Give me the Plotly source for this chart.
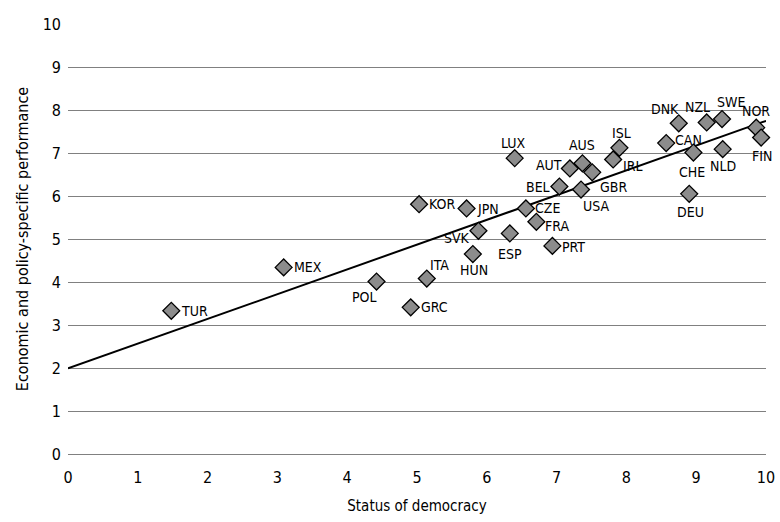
import numpy as np
import plotly.graph_objects as go

# OECD countries: status of democracy vs economic and policy-specific performance
countries = ["TUR", "MEX", "POL", "GRC", "ITA", "KOR", "JPN", "SVK", "HUN", "ESP",
             "CZE", "FRA", "PRT", "LUX", "BEL", "AUT", "AUS", "USA", "GBR", "IRL",
             "ISL", "CAN", "DNK", "DEU", "CHE", "NZL", "SWE", "NLD", "NOR", "FIN"]
democracy = [1.48, 3.09, 4.42, 4.91, 5.14, 5.03, 5.71, 5.88, 5.80, 6.33,
             6.56, 6.71, 6.94, 6.40, 7.04, 7.19, 7.37, 7.35, 7.51, 7.81,
             7.90, 8.57, 8.75, 8.90, 8.96, 9.15, 9.37, 9.38, 9.86, 9.93]
performance = [3.33, 4.34, 4.01, 3.41, 4.08, 5.81, 5.71, 5.19, 4.65, 5.13,
               5.71, 5.40, 4.84, 6.88, 6.22, 6.64, 6.76, 6.15, 6.55, 6.85,
               7.12, 7.23, 7.69, 6.05, 7.01, 7.71, 7.79, 7.09, 7.59, 7.36]

x_ticks = list(range(0, 11))
y_ticks = list(range(0, 11))

# label placement (pixel offsets from the marker, text anchor)
label_pos = {
    "TUR": (8, 0, "left"), "MEX": (8, 0, "left"), "POL": (-12, -15, "center"),
    "GRC": (8, 0, "left"), "ITA": (13, 14, "center"), "KOR": (8, 0, "left"),
    "JPN": (8, -1, "left"), "SVK": (-6, -7, "right"), "HUN": (1, -16, "center"),
    "ESP": (0, -21, "center"), "CZE": (7, 0, "left"), "FRA": (7, -4, "left"),
    "PRT": (8, -1, "left"), "LUX": (-1, 15, "center"), "BEL": (-7, 0, "right"),
    "AUT": (-6, 3, "right"), "AUS": (0, 18, "center"), "USA": (15, -16, "center"),
    "GBR": (6, -15, "left"), "IRL": (8, -7, "left"), "ISL": (2, 15, "center"),
    "CAN": (7, 3, "left"), "DNK": (-14, 14, "center"), "DEU": (1, -18, "center"),
    "CHE": (-1, -19, "center"), "NZL": (-9, 15, "center"), "SWE": (9, 17, "center"),
    "NLD": (0, -17, "center"), "NOR": (0, 17, "center"), "FIN": (1, -18, "center"),
}

FONT = "DejaVu Sans Condensed, Liberation Sans Narrow, sans-serif"
GRID = "#808080"

# least-squares trend line across the full axis range
slope, intercept = np.polyfit(democracy, performance, 1)
trend_x = np.array([0.0, 10.0])
trend_y = intercept + slope * trend_x

fig = go.Figure()
fig.add_trace(go.Scatter(
    x=trend_x, y=trend_y, mode="lines",
    line=dict(color="black", width=2), hoverinfo="skip", showlegend=False,
    cliponaxis=False,
))
fig.add_trace(go.Scatter(
    x=democracy, y=performance, mode="markers", text=countries,
    marker=dict(symbol="diamond", size=13, color="#8c8c8c",
                line=dict(color="black", width=1.3)),
    showlegend=False, cliponaxis=False,
))

for c, xv, yv in zip(countries, democracy, performance):
    dx, dy, anchor = label_pos[c]
    fig.add_annotation(
        x=xv, y=yv, text=c, showarrow=False, xanchor=anchor, yanchor="middle",
        xshift=dx, yshift=dy, font=dict(family=FONT, size=14, color="black"),
    )

fig.update_layout(
    width=780, height=522,
    margin=dict(l=68, r=14, t=24, b=68, autoexpand=False),
    paper_bgcolor="white", plot_bgcolor="white",
    font=dict(family=FONT, size=15, color="black"),
    xaxis=dict(
        range=[0, 10], tickvals=x_ticks, showgrid=False, zeroline=False,
        showline=False, ticks="", tickfont=dict(size=16), automargin=False,
        ticklabelstandoff=12,
        title=dict(text="Status of democracy", font=dict(size=15), standoff=14),
    ),
    yaxis=dict(
        range=[0, 10], tickvals=y_ticks, showgrid=True, gridcolor=GRID,
        gridwidth=1.2, zeroline=True, zerolinecolor=GRID, zerolinewidth=1.2,
        showline=False, ticks="",
        tickfont=dict(size=16), ticklabelstandoff=6, automargin=False,
        title=dict(text="Economic and policy-specific performance",
                   font=dict(size=16), standoff=10),
    ),
)

fig.write_html("out.html")
